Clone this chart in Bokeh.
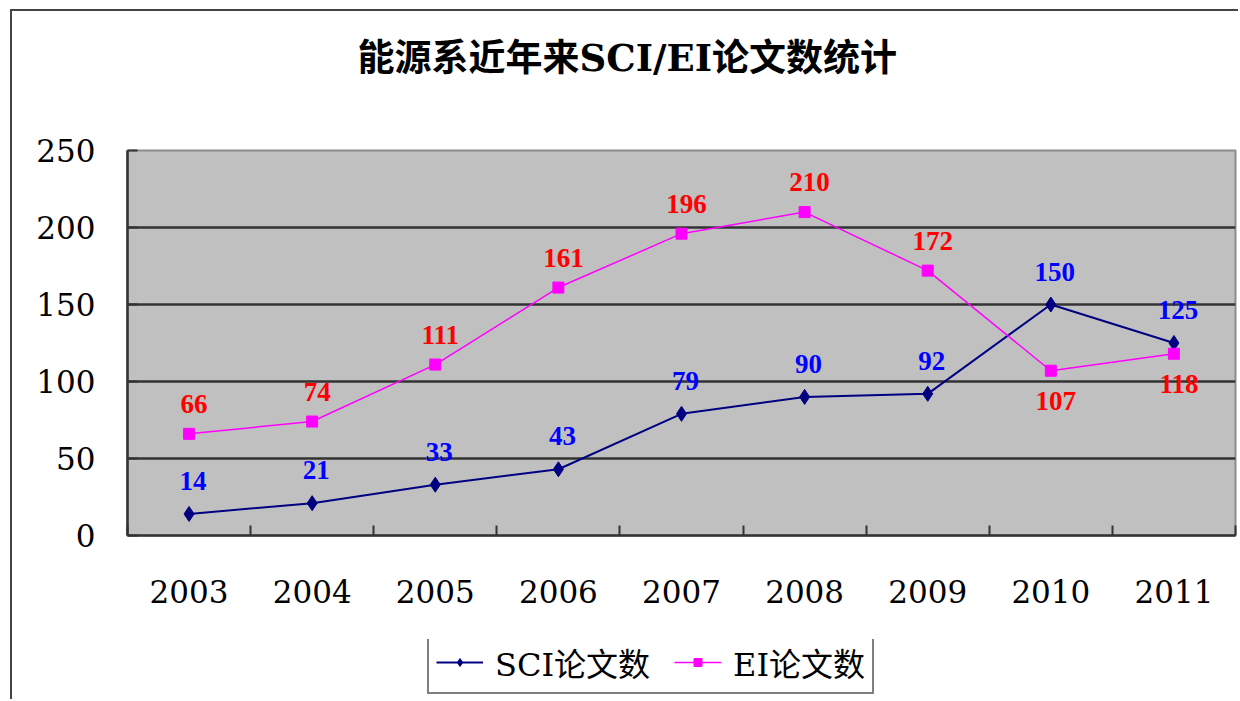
from bokeh.plotting import figure
from bokeh.layouts import column
from bokeh.models import (ColumnDataSource, Range1d, FixedTicker, LabelSet,
                          Legend, LegendItem)
from bokeh.embed import file_html
from bokeh.resources import INLINE

# ---- data -------------------------------------------------------------
years = [2003, 2004, 2005, 2006, 2007, 2008, 2009, 2010, 2011]
sci = [14, 21, 33, 43, 79, 90, 92, 150, 125]
ei = [66, 74, 111, 161, 196, 210, 172, 107, 118]
ei_label_below = [False, False, False, False, False, False, False, True, True]
y_ticks = [0, 50, 100, 150, 200, 250]
title_text = "能源系近年来SCI/EI论文数统计"
sci_name = "SCI论文数"
ei_name = "EI论文数"

# ---- style ------------------------------------------------------------
FONT = "DejaVu Serif, Noto Sans CJK SC"
LABEL_FONT = "Liberation Serif"
DARK = "#333333"
SCI_LINE = "#000080"
EI_LINE = "#FF00FF"
BORDER_L, BORDER_R = 115, 3

p = figure(width=1226, height=628, output_backend="svg", toolbar_location=None,
           x_range=Range1d(years[0] - 0.5, years[-1] + 0.5),
           y_range=Range1d(y_ticks[0], y_ticks[-1]),
           min_border_left=BORDER_L, min_border_right=BORDER_R,
           min_border_top=139, min_border_bottom=104)
p.background_fill_color = "#C0C0C0"
p.border_fill_color = "white"
p.outline_line_color = "#8C8C8C"
p.outline_line_width = 2

# trailing empty line gives the title box the height needed to sit high above the frame
p.title.text = title_text + "\n"
p.title.align = "left"
p.title.offset = 230
p.title.vertical_align = "top"
p.title.standoff = 49
p.title.text_font = FONT
p.title.text_font_size = "37px"
p.title.text_font_style = "bold"
p.title.text_color = "black"

# x axis: labels at year centres, tick marks at category boundaries
xa = p.xaxis[0]
xa.ticker = FixedTicker(ticks=years,
                        minor_ticks=[y - 0.5 for y in years] + [years[-1] + 0.5])
xa.major_tick_in = 0
xa.major_tick_out = 0
xa.minor_tick_in = 10
xa.minor_tick_out = 0
xa.minor_tick_line_color = DARK
xa.minor_tick_line_width = 2
xa.axis_line_color = DARK
xa.axis_line_width = 2.5
xa.major_label_text_font = FONT
xa.major_label_text_font_size = "31px"
xa.major_label_text_color = "black"
xa.major_label_standoff = 44

ya = p.yaxis[0]
ya.ticker = FixedTicker(ticks=y_ticks)
ya.major_tick_in = 10
ya.major_tick_out = 0
ya.major_tick_line_color = DARK
ya.major_tick_line_width = 2
ya.minor_tick_in = 0
ya.minor_tick_out = 0
ya.axis_line_color = DARK
ya.axis_line_width = 2.5
ya.major_label_text_font = FONT
ya.major_label_text_font_size = "31px"
ya.major_label_text_color = "black"
ya.major_label_standoff = 32

p.xgrid.visible = False
p.ygrid.ticker = FixedTicker(ticks=y_ticks[1:-1])
p.ygrid.grid_line_color = DARK
p.ygrid.grid_line_width = 2.5

# ---- series -------------------------------------------------------------
src_sci = ColumnDataSource(dict(x=years, y=sci, t=[str(v) for v in sci]))
src_ei = ColumnDataSource(dict(x=years, y=ei, t=[str(v) for v in ei],
                               dy=[-30 if b else 30 for b in ei_label_below]))


def draw_series(fig):
    a = fig.line("x", "y", source=src_sci, line_color=SCI_LINE, line_width=2)
    b = fig.scatter("x", "y", source=src_sci, marker="diamond", size=15,
                    fill_color=SCI_LINE, line_color=SCI_LINE)
    c = fig.line("x", "y", source=src_ei, line_color=EI_LINE, line_width=1.5)
    d = fig.scatter("x", "y", source=src_ei, marker="square", size=11,
                    fill_color=EI_LINE, line_color=EI_LINE)
    return a, b, c, d


draw_series(p)

p.add_layout(LabelSet(x="x", y="y", text="t", source=src_sci, x_offset=4, y_offset=33,
                      text_align="center", text_baseline="middle",
                      text_color="#0000FF", text_font=LABEL_FONT,
                      text_font_size="27px", text_font_style="bold"))
p.add_layout(LabelSet(x="x", y="y", text="t", source=src_ei, x_offset=5, y_offset="dy",
                      text_align="center", text_baseline="middle",
                      text_color="#FF0000", text_font=LABEL_FONT,
                      text_font_size="27px", text_font_style="bold"))

# ---- legend (its own strip below the chart, frame aligned with the chart) ----
lf = figure(width=1226, height=60, output_backend="svg", toolbar_location=None,
            x_range=Range1d(-10, -9), y_range=Range1d(-10, -9),
            x_axis_location=None, y_axis_location=None,
            min_border_left=BORDER_L, min_border_right=BORDER_R,
            min_border_top=0, min_border_bottom=0)
lf.grid.visible = False
lf.outline_line_color = None
lf.background_fill_color = "white"
lf.border_fill_color = "white"
l1, l2, l3, l4 = draw_series(lf)

legend = Legend(items=[LegendItem(label=sci_name, renderers=[l1, l2]),
                       LegendItem(label=ei_name, renderers=[l3, l4])],
                orientation="horizontal", location=(300, 5))
legend.border_line_color = "black"
legend.border_line_width = 2
legend.background_fill_color = "white"
legend.background_fill_alpha = 1
legend.label_text_font = FONT
legend.label_text_font_size = "32px"
legend.label_text_color = "black"
legend.glyph_width = 47
legend.glyph_height = 20
legend.padding = 7
legend.spacing = 24
legend.label_standoff = 12
legend.margin = 0
lf.add_layout(legend)

page = column(p, lf, spacing=0)
page.styles = {"margin-left": "10px", "margin-top": "9px",
               "border-left": "2px solid #444444", "border-top": "2px solid #444444"}

open("out.html", "w").write(file_html(page, INLINE))
